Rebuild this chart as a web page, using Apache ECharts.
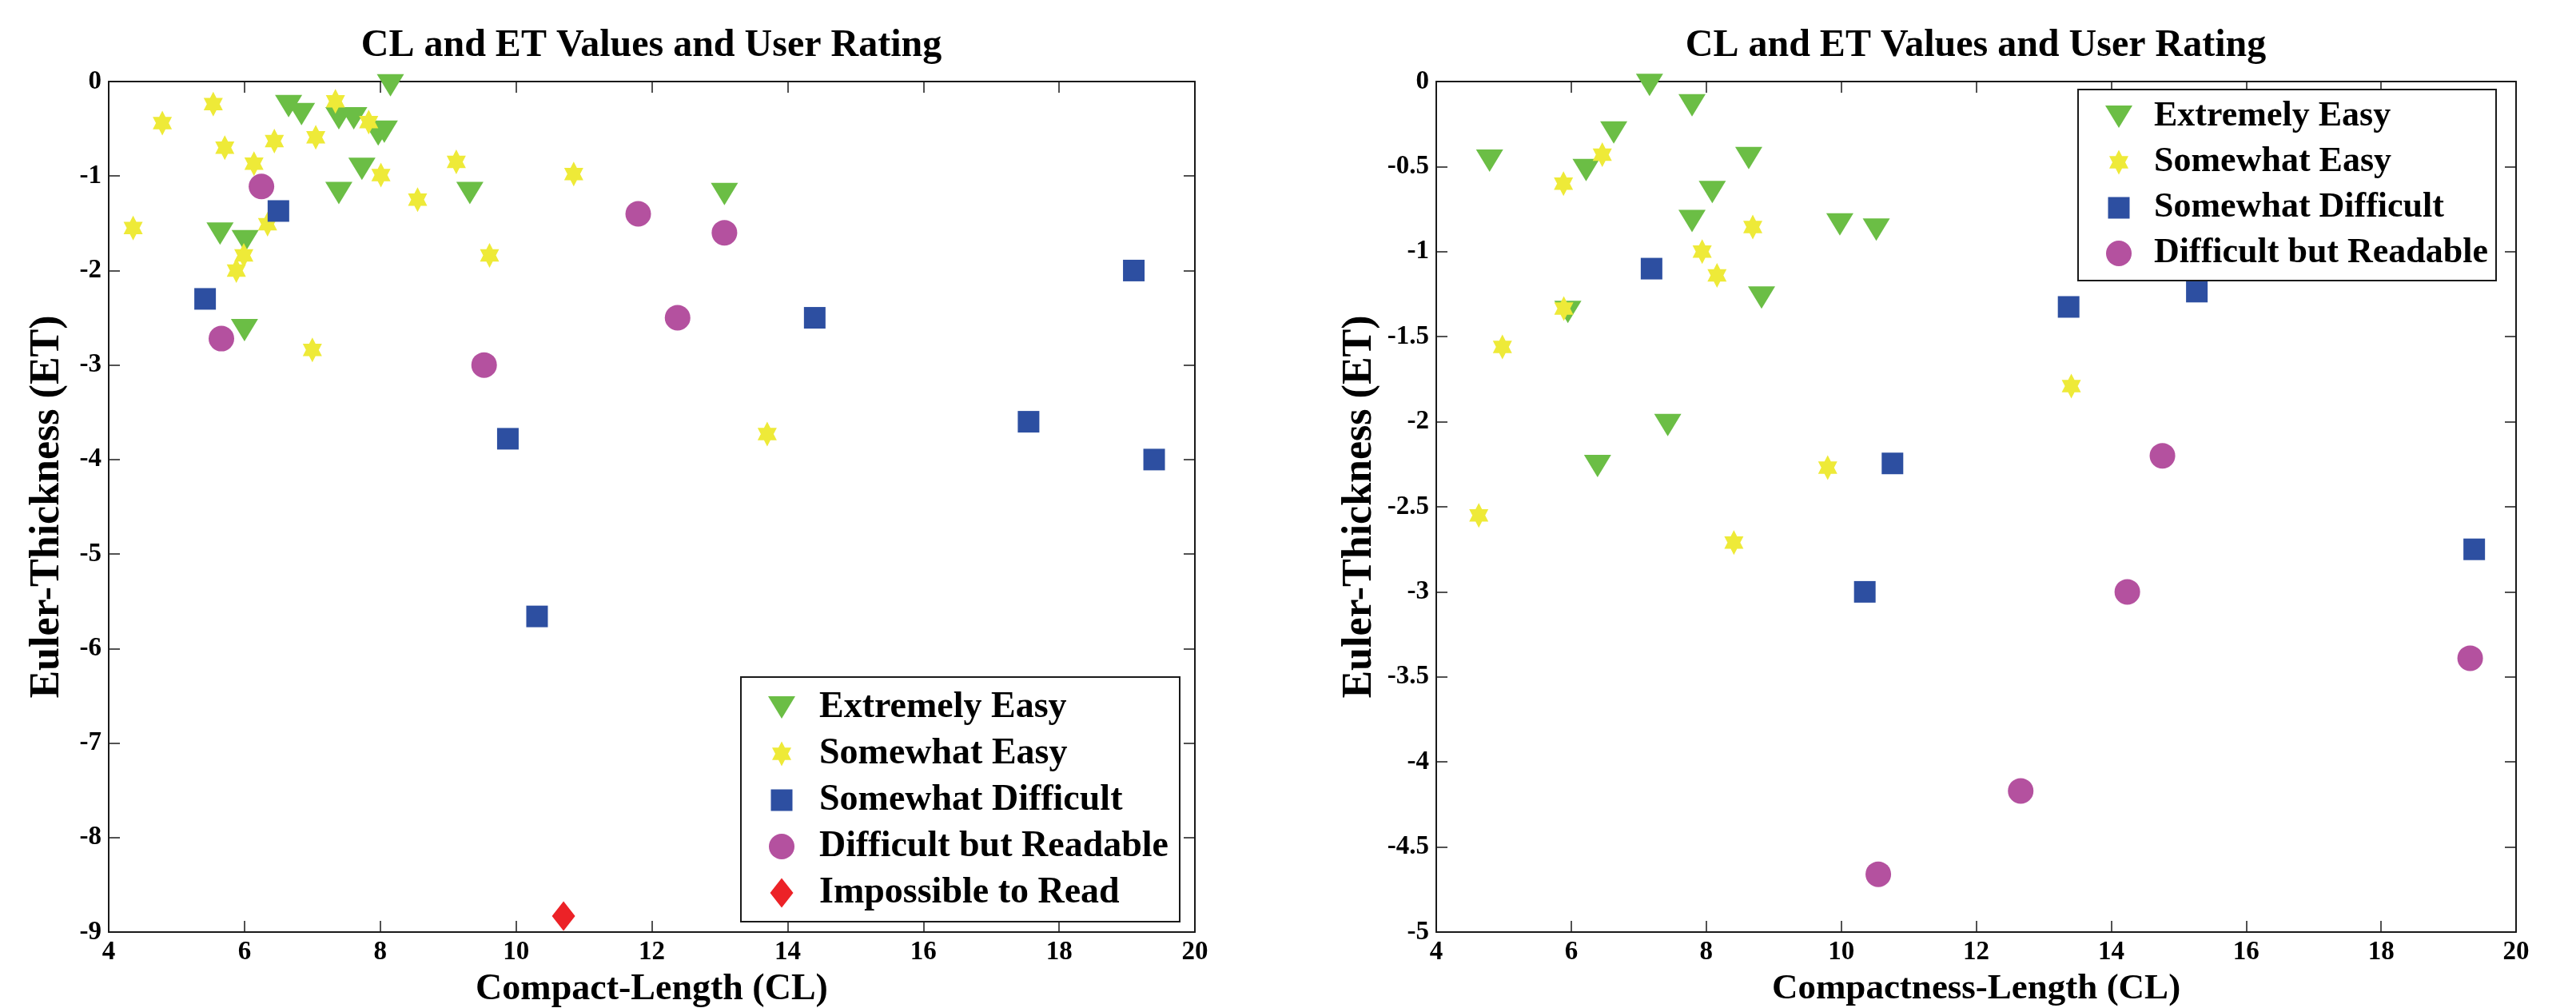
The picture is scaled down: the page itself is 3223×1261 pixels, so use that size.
<!DOCTYPE html>
<html>
<head>
<meta charset="utf-8">
<title>CL and ET Values and User Rating</title>
<script src="https://cdn.jsdelivr.net/npm/echarts@6/dist/echarts.min.js"></script>
<style>
  html, body { margin: 0; padding: 0; background: #fff; }
  #main { width: 3223px; height: 1261px; }
</style>
</head>
<body>
<div id="main"></div>
<script>
// rating classes (legend order)
var ratingNames = ['Extremely Easy', 'Somewhat Easy', 'Somewhat Difficult', 'Difficult but Readable', 'Impossible to Read'];
var ratingColors = ['#6bbe45', '#eeea38', '#2d4fa1', '#b4519f', '#ec2227'];

// left plot: [Compact-Length, Euler-Thickness]
var extremelyEasyL = [[8.15, -0.04], [6.65, -0.26], [6.84, -0.345], [7.39, -0.39], [7.61, -0.39], [7.97, -0.56], [8.06, -0.53],
  [7.73, -0.925], [7.39, -1.18], [9.32, -1.18], [5.64, -1.61], [6.01, -1.69], [6.0, -2.63], [13.07, -1.19]];
var somewhatEasyL = [[4.79, -0.44], [5.54, -0.24], [4.36, -1.55], [5.71, -0.70], [6.44, -0.63], [6.14, -0.87], [7.05, -0.59],
  [7.34, -0.21], [7.83, -0.43], [8.01, -0.99], [8.55, -1.25], [9.12, -0.85], [9.61, -1.84], [6.34, -1.51], [5.99, -1.84],
  [5.88, -2.0], [10.85, -0.98], [7.0, -2.84], [13.7, -3.73]];
var somewhatDifficultL = [[6.5, -1.37], [5.42, -2.3], [9.88, -3.78], [10.31, -5.66], [14.4, -2.5], [17.55, -3.6], [19.1, -2.0], [19.4, -4.0]];
var difficultReadableL = [[6.25, -1.11], [5.66, -2.72], [9.53, -3.0], [11.8, -1.4], [12.38, -2.5], [13.07, -1.6]];
var impossibleL = [[10.7, -8.83]];

// right plot: [Compactness-Length, Euler-Thickness]
var extremelyEasyR = [[7.16, -0.02], [7.79, -0.14], [6.63, -0.30], [4.79, -0.465], [6.22, -0.52], [8.63, -0.45], [8.09, -0.65],
  [7.79, -0.82], [8.82, -1.27], [5.95, -1.355], [9.98, -0.84], [10.52, -0.87], [7.43, -2.02], [6.39, -2.26]];
var somewhatEasyR = [[6.46, -0.43], [5.885, -0.60], [8.69, -0.855], [7.94, -1.0], [8.16, -1.14], [5.89, -1.335], [4.98, -1.56],
  [13.41, -1.79], [9.8, -2.27], [4.63, -2.55], [8.41, -2.71]];
var somewhatDifficultR = [[7.19, -1.10], [13.37, -1.325], [15.27, -1.235], [10.76, -2.245], [10.35, -3.0], [19.38, -2.75]];
var difficultReadableR = [[14.76, -2.2], [14.24, -3.0], [19.32, -3.39], [12.66, -4.17], [10.55, -4.66]];

// marker shapes, all in a 40x40 box so legend and plot share the size
var markers = [
  'path://M0,0M40,40M3,6L37,6L20,34Z',
  'path://M0,0M40,40M20,4.5L24,12.25L32,12.25L28,20L32,27.75L24,27.75L20,35.5L16,27.75L8,27.75L12,20L8,12.25L16,12.25Z',
  'path://M0,0M40,40M6.5,6.5L33.5,6.5L33.5,33.5L6.5,33.5Z',
  'path://M0,0M40,40M4,20A16,16,0,1,0,36,20A16,16,0,1,0,4,20Z',
  'path://M0,0M40,40M20,1.5L34.5,20L20,38.5L5.5,20Z'
];

var FONT = "'Liberation Serif', 'Times New Roman', serif";

function txt(size) {
  return { fontFamily: FONT, fontWeight: 'bold', fontSize: size, color: '#000' };
}

function valueAxis(grid, pos, min, max, step, showLabel, name, nameSize, nameGap) {
  return {
    type: 'value', gridIndex: grid, position: pos,
    min: min, max: max, interval: step,
    name: name || '', nameLocation: 'middle', nameGap: nameGap || 0,
    nameTextStyle: Object.assign(txt(nameSize || 40), { lineHeight: nameSize || 40 }),
    nameMoveOverlap: false,
    axisLine: { show: true, onZero: false, lineStyle: { color: '#1a1a1a', width: 2 } },
    axisTick: { show: true, inside: true, length: 14, lineStyle: { color: '#1a1a1a', width: 1.5 } },
    axisLabel: Object.assign(txt(33), { show: showLabel, margin: 9 }),
    splitLine: { show: false },
    silent: true
  };
}

function scatter(name, data, idx, axisBase) {
  return {
    type: 'scatter', name: name, data: data,
    xAxisIndex: axisBase, yAxisIndex: axisBase,
    symbol: markers[idx], symbolSize: 40,
    itemStyle: { color: ratingColors[idx], opacity: 1 },
    emphasis: { disabled: true },
    silent: true, clip: false
  };
}

function legendFor(names, left, top, padding, size, gap, textPad) {
  return {
    orient: 'vertical', left: left, top: top, padding: padding,
    itemWidth: 40, itemHeight: 40, itemGap: gap,
    borderColor: '#1a1a1a', borderWidth: 2, backgroundColor: '#fff',
    selectedMode: false,
    textStyle: Object.assign(txt(size), { lineHeight: 46, padding: [0, 0, 0, textPad] }),
    data: names.map(function (n) {
      var i = ratingNames.indexOf(n);
      return { name: n, icon: markers[i], itemStyle: { color: ratingColors[i] } };
    })
  };
}

var chart = echarts.init(document.getElementById('main'), null, { renderer: 'canvas' });

var option = {
  backgroundColor: '#fff',
  animation: false,
  title: [
    { text: 'CL and ET Values and User Rating', left: 815, top: 34, textAlign: 'center', padding: 0,
      textStyle: Object.assign(txt(48), { lineHeight: 48 }) },
    { text: 'CL and ET Values and User Rating', left: 2472, top: 34, textAlign: 'center', padding: 0,
      textStyle: Object.assign(txt(48), { lineHeight: 48 }) }
  ],
  grid: [
    { left: 136, top: 102, width: 1359, height: 1064, outerBoundsMode: 'none', containLabel: false },
    { left: 1797, top: 102, width: 1351, height: 1064, outerBoundsMode: 'none', containLabel: false }
  ],
  xAxis: [
    valueAxis(0, 'bottom', 4, 20, 2, true, 'Compact-Length (CL)', 46, 49),
    valueAxis(0, 'top', 4, 20, 2, false),
    valueAxis(1, 'bottom', 4, 20, 2, true, 'Compactness-Length (CL)', 45, 49),
    valueAxis(1, 'top', 4, 20, 2, false)
  ],
  yAxis: [
    valueAxis(0, 'left', -9, 0, 1, true, 'Euler-Thickness (ET)', 52, 50),
    valueAxis(0, 'right', -9, 0, 1, false),
    valueAxis(1, 'left', -5, 0, 0.5, true, 'Euler-Thickness (ET)', 52, 69),
    valueAxis(1, 'right', -5, 0, 0.5, false)
  ],
  legend: [
    legendFor(ratingNames, 927, 847, [15, 14, 13, 31], 46, 12, 22),
    legendFor(ratingNames.slice(0, 4), 2600, 112, [11, 10, 11, 31], 44, 11, 19)
  ],
  series: [
    scatter(ratingNames[0], extremelyEasyL, 0, 0),
    scatter(ratingNames[1], somewhatEasyL, 1, 0),
    scatter(ratingNames[2], somewhatDifficultL, 2, 0),
    scatter(ratingNames[3], difficultReadableL, 3, 0),
    scatter(ratingNames[4], impossibleL, 4, 0),
    scatter(ratingNames[0], extremelyEasyR, 0, 2),
    scatter(ratingNames[1], somewhatEasyR, 1, 2),
    scatter(ratingNames[2], somewhatDifficultR, 2, 2),
    scatter(ratingNames[3], difficultReadableR, 3, 2)
  ]
};

chart.setOption(option);
</script>
</body>
</html>
